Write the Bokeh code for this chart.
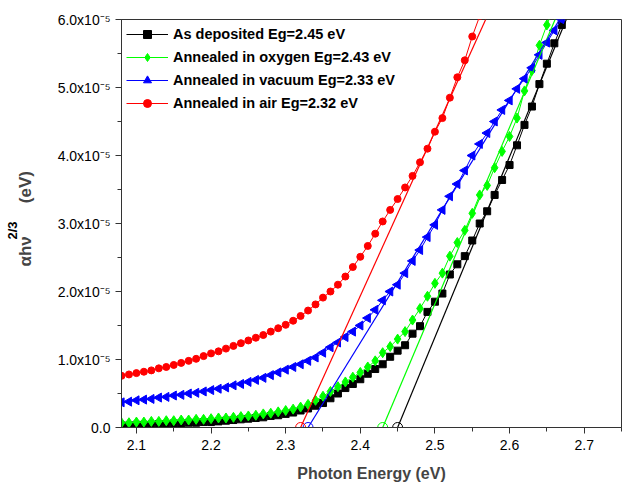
import math
from bokeh.plotting import figure
from bokeh.models import Legend, LegendItem, Title, FixedTicker, CustomJSTickFormatter
from bokeh.embed import file_html
from bokeh.resources import INLINE

# ---------------- data (alpha*h*nu^(2/3), in units of 1e-5 eV) ----------------
energy = [2.08, 2.09, 2.10, 2.11, 2.12, 2.13, 2.14, 2.15, 2.16, 2.17,
          2.18, 2.19, 2.20, 2.21, 2.22, 2.23, 2.24, 2.25, 2.26, 2.27,
          2.28, 2.29, 2.30, 2.31, 2.32, 2.33, 2.34, 2.35, 2.36, 2.37,
          2.38, 2.39, 2.40, 2.41, 2.42, 2.43, 2.44, 2.45, 2.46, 2.47,
          2.48, 2.49, 2.50, 2.51, 2.52, 2.53, 2.54, 2.55, 2.56, 2.57,
          2.58, 2.59, 2.60, 2.61, 2.62, 2.63, 2.64, 2.65, 2.66, 2.67,
          2.68]

as_deposited = [0.03, 0.03, 0.04, 0.04, 0.04, 0.05, 0.05, 0.06, 0.06, 0.07,
                0.07, 0.08, 0.08, 0.09, 0.10, 0.11, 0.12, 0.13, 0.14, 0.15,
                0.17, 0.18, 0.20, 0.22, 0.25, 0.28, 0.32, 0.36, 0.43, 0.50,
                0.58, 0.64, 0.71, 0.79, 0.86, 0.93, 1.04, 1.13, 1.21, 1.38,
                1.49, 1.70, 1.85, 1.97, 2.25, 2.40, 2.52, 2.75, 3.00, 3.18,
                3.42, 3.64, 3.86, 4.15, 4.45, 4.72, 5.05, 5.35, 5.65, 5.92,
                6.20]

oxygen = [0.07, 0.07, 0.08, 0.08, 0.09, 0.09, 0.10, 0.10, 0.11, 0.11,
          0.12, 0.12, 0.13, 0.14, 0.14, 0.15, 0.16, 0.17, 0.18, 0.20,
          0.21, 0.23, 0.25, 0.27, 0.30, 0.34, 0.40, 0.46, 0.53, 0.60,
          0.67, 0.74, 0.81, 0.89, 0.98, 1.10, 1.19, 1.30, 1.41, 1.58,
          1.75, 1.93, 2.12, 2.27, 2.52, 2.72, 2.90, 3.15, 3.42, 3.56,
          3.82, 4.06, 4.28, 4.55, 4.95, 5.25, 5.62, 5.92, 6.20]

vacuum = [0.37, 0.38, 0.40, 0.41, 0.42, 0.44, 0.45, 0.47, 0.48, 0.50,
          0.51, 0.53, 0.55, 0.57, 0.59, 0.62, 0.64, 0.67, 0.70, 0.73,
          0.77, 0.81, 0.85, 0.89, 0.93, 0.98, 1.03, 1.10, 1.18, 1.25,
          1.33, 1.41, 1.50, 1.61, 1.73, 1.87, 2.00, 2.10, 2.27, 2.45,
          2.61, 2.80, 2.98, 3.20, 3.40, 3.58, 3.78, 4.00, 4.17, 4.33,
          4.50, 4.67, 4.81, 4.98, 5.13, 5.29, 5.48, 5.66, 5.84, 6.00,
          6.18]

air = [0.76, 0.78, 0.80, 0.82, 0.84, 0.87, 0.89, 0.92, 0.95, 0.98,
       1.01, 1.05, 1.09, 1.12, 1.16, 1.20, 1.24, 1.28, 1.32, 1.36,
       1.41, 1.46, 1.51, 1.57, 1.64, 1.72, 1.81, 1.91, 2.00, 2.10,
       2.22, 2.36, 2.51, 2.67, 2.85, 3.03, 3.20, 3.36, 3.53, 3.70,
       3.90, 4.10, 4.35, 4.55, 4.85, 5.15, 5.40, 5.75, 6.05]

labels = ["As deposited Eg=2.45 eV", "Annealed in oxygen Eg=2.43 eV",
          "Annealed in vacuum Eg=2.33 eV", "Annealed in air Eg=2.32 eV"]
band_gap = [2.45, 2.43, 2.33, 2.32]            # linear-fit intercepts (eV)
fit_top_energy = [2.676, 2.661, 2.667, 2.568]  # where each fit line leaves the top (eV)
fit_top_value = 6.0                            # 1e-5 units

x_major = [2.1, 2.2, 2.3, 2.4, 2.5, 2.6, 2.7]
x_minor = [2.1, 2.15, 2.2, 2.25, 2.3, 2.35, 2.4, 2.45, 2.5, 2.55, 2.6, 2.65, 2.7, 2.75]
y_major = [0, 1e-5, 2e-5, 3e-5, 4e-5, 5e-5, 6e-5]
y_minor = [0, 0.5e-5, 1e-5, 1.5e-5, 2e-5, 2.5e-5, 3e-5, 3.5e-5, 4e-5, 4.5e-5, 5e-5, 5.5e-5, 6e-5]

UNIT = 1e-5
series = [as_deposited, oxygen, vacuum, air]
colors = ["#000000", "#00ff00", "#0000ff", "#ff0000"]
markers = ["square", "diamond", "triangle", "circle"]
msizes = [7, 10, 9, 7]
angles = [0.0, 0.0, math.pi / 2, 0.0]

FONT = "Liberation Sans"

p = figure(width=622, height=486, x_range=(2.08, 2.75), y_range=(0, 6e-5),
           output_backend="svg", toolbar_location=None,
           min_border_left=121, min_border_right=1, min_border_top=19,
           min_border_bottom=59)
p.xgrid.visible = False
p.ygrid.visible = False
p.outline_line_color = "#333333"
p.outline_line_width = 1
p.background_fill_color = "white"
p.border_fill_color = "white"

items = []
for i, ys in enumerate(series):
    xs = energy[:len(ys)]
    yv = [v * UNIT for v in ys]
    ln = p.line(xs, yv, line_color=colors[i], line_width=1)
    sc = p.scatter(x=xs, y=yv, marker=markers[i], size=msizes[i],
                   angle=[angles[i]] * len(xs),
                   fill_color=colors[i], line_color=colors[i])
    items.append(LegendItem(label=labels[i], renderers=[ln, sc], index=0))

for i in range(4):
    p.line([band_gap[i], fit_top_energy[i]], [0, fit_top_value * UNIT],
           line_color=colors[i], line_width=1.2)
    p.scatter([band_gap[i]], [0], marker="circle", size=10, fill_color=None,
              line_color=colors[i], line_width=1)

legend = Legend(items=items, location="top_left", margin=0, padding=5,
                spacing=3, glyph_width=42, glyph_height=20, label_height=20,
                label_standoff=5, border_line_alpha=0, background_fill_alpha=0,
                label_text_font=FONT, label_text_font_style="bold",
                label_text_font_size="14.5px", label_text_color="black")
p.add_layout(legend)

for ax in (p.xaxis[0], p.yaxis[0]):
    ax.axis_line_color = "#333333"
    ax.major_tick_line_color = "#333333"
    ax.minor_tick_line_color = "#333333"
    ax.major_tick_out = 6
    ax.major_tick_in = 0
    ax.minor_tick_out = 4
    ax.minor_tick_in = 0
    ax.major_label_text_font = FONT
    ax.major_label_text_font_size = "14px"
    ax.major_label_text_color = "black"

p.xaxis.ticker = FixedTicker(ticks=x_major, minor_ticks=x_minor)
p.yaxis.ticker = FixedTicker(ticks=y_major, minor_ticks=y_minor)
p.xaxis.major_label_standoff = 6
p.yaxis.major_label_standoff = 5
p.yaxis.formatter = CustomJSTickFormatter(code="""
    if (Math.abs(tick) < 1e-12) { return '0.0'; }
    return (tick * 1e5).toFixed(1) + 'x10\u207B\u2075';
""")

p.xaxis.axis_label = "Photon Energy (eV)"
p.xaxis.axis_label_text_font = FONT
p.xaxis.axis_label_text_font_style = "bold"
p.xaxis.axis_label_text_font_size = "16px"
p.xaxis.axis_label_standoff = 12

# y-axis label: main text on the axis, superscript "2/3" as an outer title
NB = "\u00a0"
p.yaxis.axis_label = NB * 2 + "\u03b1h\u03bd" + NB * 7 + "(eV)"
p.yaxis.axis_label_text_font = FONT
p.yaxis.axis_label_text_font_style = "bold"
p.yaxis.axis_label_text_font_size = "17px"
p.yaxis.axis_label_standoff = 20

sup = Title(text="2/3", align="left", offset=188, standoff=-14,
            text_font=FONT, text_font_style="bold", text_font_size="13px",
            text_color="black")
p.add_layout(sup, "left")

open("out.html", "w").write(file_html(p, INLINE))
